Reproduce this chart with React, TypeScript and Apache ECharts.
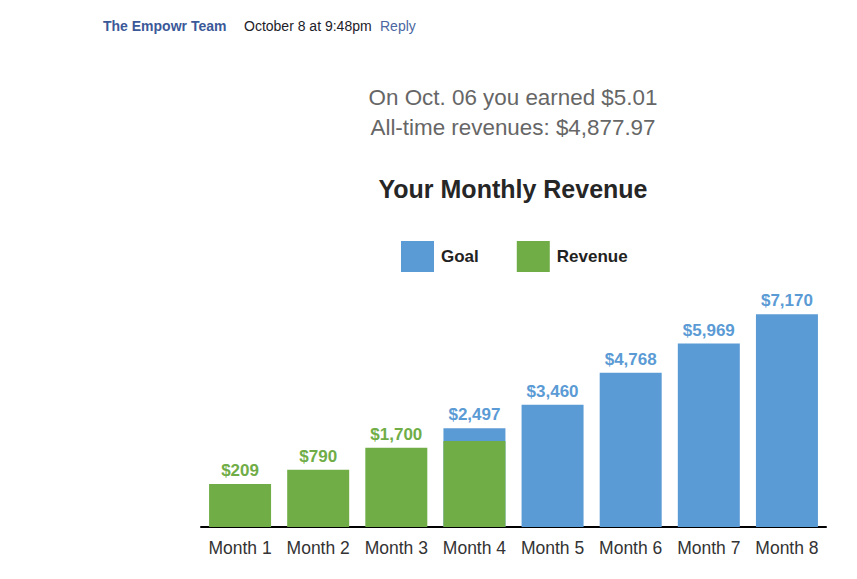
import React, { useEffect, useRef } from "react";
import * as echarts from "echarts";

const months = ["Month 1", "Month 2", "Month 3", "Month 4", "Month 5", "Month 6", "Month 7", "Month 8"];
const goal = [null, null, null, 2497, 3460, 4768, 5969, 7170];
const revenue = [209, 790, 1700, 1970, null, null, null, null];
const revenueLabelShown = [true, true, true, false, false, false, false, false];

const BLUE = "#5b9bd5";
const GREEN = "#70ad47";
const FONT = "'Liberation Sans', Arial, sans-serif";

const fmt = (v: number) => "$" + v.toLocaleString("en-US");

export default function App() {
  const ref = useRef<HTMLDivElement>(null);
  useEffect(() => {
    const chart = echarts.init(ref.current!, null, { renderer: "svg" });
    chart.setOption({
      animation: false,
      backgroundColor: "#ffffff",
      textStyle: { fontFamily: FONT },
      title: [
        {
          text: "On Oct. 06 you earned $5.01\nAll-time revenues: $4,877.97",
          left: 513,
          textAlign: "center",
          top: 82,
          padding: 0,
          textStyle: { fontFamily: FONT, fontSize: 22.4, fontWeight: "normal", color: "#666666", lineHeight: 30 },
        },
        {
          text: "Your Monthly Revenue",
          left: 513,
          textAlign: "center",
          top: 176,
          padding: 0,
          textStyle: { fontFamily: FONT, fontSize: 25, fontWeight: "bold", color: "#262626" },
        },
      ],
      graphic: [
        { type: "text", left: 103, top: 19, style: { text: "The Empowr Team", font: "bold 14px " + FONT, fill: "#3b5998" } },
        { type: "text", left: 244, top: 19, style: { text: "October 8 at 9:48pm", font: "14px " + FONT, fill: "#1d2129" } },
        { type: "text", left: 380, top: 19, style: { text: "Reply", font: "14px " + FONT, fill: "#4b67a1" } },
      ],
      legend: {
        left: 401,
        top: 241,
        padding: 0,
        itemWidth: 33,
        itemHeight: 31,
        itemGap: 38,
        icon: "rect",
        textStyle: { fontFamily: FONT, fontSize: 17, fontWeight: "bold", color: "#222222", padding: [0, 0, 0, 2] },
        data: ["Goal", "Revenue"],
      },
      grid: { left: 201, right: 31, top: 294, bottom: 52, containLabel: false },
      xAxis: {
        type: "category",
        data: months,
        axisLine: { onZero: false, lineStyle: { color: "#000000", width: 2 } },
        axisTick: { show: false },
        axisLabel: { interval: 0, fontFamily: FONT, fontSize: 17.5, color: "#333333", margin: 12 },
      },
      yAxis: {
        type: "value",
        min: -1552,
        max: 8000,
        startValue: -1552,
        show: false,
        splitLine: { show: false },
      },
      series: [
        {
          name: "Goal",
          type: "bar",
          data: goal,
          barWidth: 62,
          barGap: "-100%",
          itemStyle: { color: BLUE },
          label: {
            show: true,
            position: "top",
            distance: 5,
            fontFamily: FONT,
            fontSize: 17,
            fontWeight: "bold",
            color: BLUE,
            formatter: (p: any) => fmt(p.value),
          },
        },
        {
          name: "Revenue",
          type: "bar",
          data: revenue,
          barWidth: 62,
          barGap: "-100%",
          itemStyle: { color: GREEN },
          label: {
            show: true,
            position: "top",
            distance: 5,
            fontFamily: FONT,
            fontSize: 17,
            fontWeight: "bold",
            color: GREEN,
            formatter: (p: any) => (revenueLabelShown[p.dataIndex] ? fmt(p.value) : ""),
          },
        },
      ],
    });
    return () => chart.dispose();
  }, []);
  return <div ref={ref} style={{ position: "fixed", left: 0, top: 0, width: 857, height: 579 }} />;
}
